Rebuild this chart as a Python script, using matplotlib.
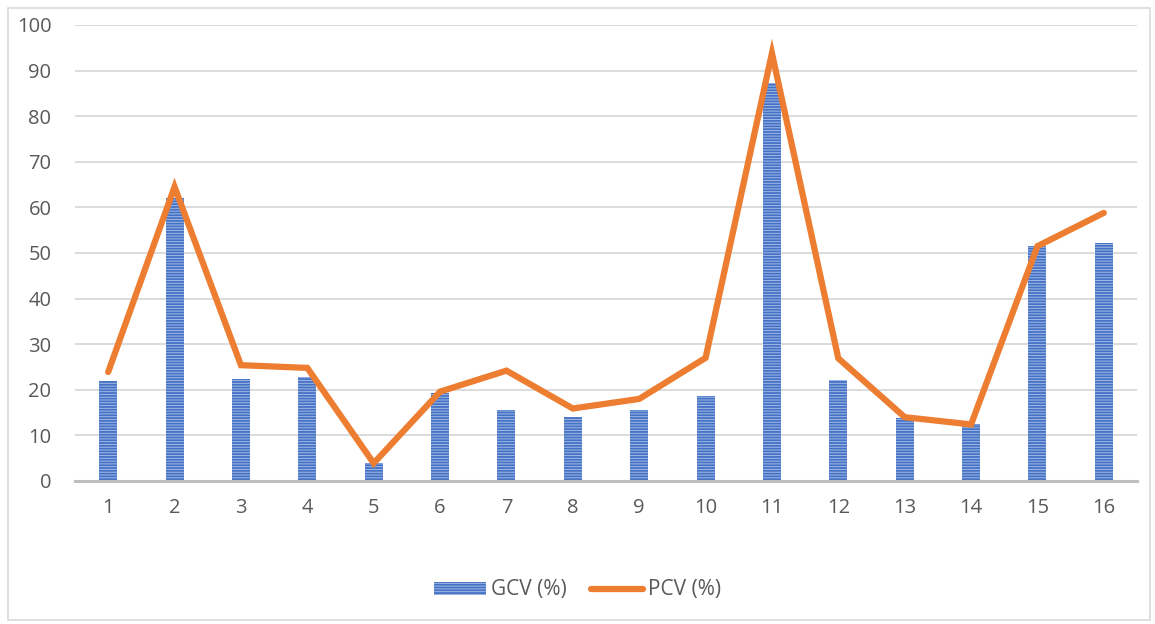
import matplotlib
matplotlib.use("Agg")
import matplotlib.pyplot as plt
from matplotlib.patches import Rectangle
import numpy as np

# 数据
categories = [str(i) for i in range(1, 17)]
gcv = [22.0, 62.0, 22.4, 22.8, 3.9, 19.4, 15.6, 14.1, 15.5, 18.6, 87.3, 22.1, 13.8, 12.4, 51.6, 52.3]
pcv = [23.9, 64.5, 25.4, 24.8, 3.9, 19.6, 24.2, 15.9, 18.0, 27.0, 93.8, 26.9, 14.0, 12.4, 51.5, 58.8]
yticks = [0, 10, 20, 30, 40, 50, 60, 70, 80, 90, 100]

plt.rcParams['font.family'] = ['Open Sans', 'DejaVu Sans']
plt.rcParams['hatch.linewidth'] = 1.3

fig = plt.figure(figsize=(11.55, 6.24), dpi=100)
W, H = 1155, 624
ax = fig.add_axes([75 / W, 1 - 481 / H, (1137 - 75) / W, (481 - 25) / H])

x = np.arange(len(categories))
bars = ax.bar(x, gcv, width=0.27, color='#a3b9e6', edgecolor='#4472C4', linewidth=0,
              hatch='------', label='GCV (%)', zorder=2)
line, = ax.plot(x, pcv, color='#ED7D31', linewidth=4.5, solid_capstyle='round',
                solid_joinstyle='miter', label='PCV (%)', zorder=3)

ax.set_xlim(-0.5, len(categories) - 0.5)
ax.set_ylim(0, 100)
ax.set_yticks(yticks)
ax.set_xticks(x)
ax.set_xticklabels(categories)
ax.grid(axis='y', color='#d9d9d9', linewidth=1.3, zorder=0)
ax.set_axisbelow(True)
for s in ['top', 'right', 'left']:
    ax.spines[s].set_visible(False)
ax.spines['bottom'].set_color('#bfbfbf')
ax.spines['bottom'].set_linewidth(2.2)
ax.spines['bottom'].set_zorder(4)
ax.tick_params(axis='both', length=0, labelsize=14.5, colors='#595959')
ax.tick_params(axis='y', pad=17)
ax.tick_params(axis='x', pad=12)

leg = fig.legend([bars, line], ['GCV (%)', 'PCV (%)'], loc='center',
                 bbox_to_anchor=(0.5, 1 - 590 / H), ncol=2, frameon=False,
                 fontsize=15, handlelength=2.5, handleheight=0.6, columnspacing=1.2,
                 handletextpad=0.2)
for t in leg.get_texts():
    t.set_color('#595959')

fig.patches.append(Rectangle((8 / W, 1 - 620 / H), (1150 - 8) / W, (620 - 8) / H,
                             transform=fig.transFigure, fill=False,
                             edgecolor='#d9d9d9', linewidth=1.2))

fig.savefig('out.png', dpi=100)
